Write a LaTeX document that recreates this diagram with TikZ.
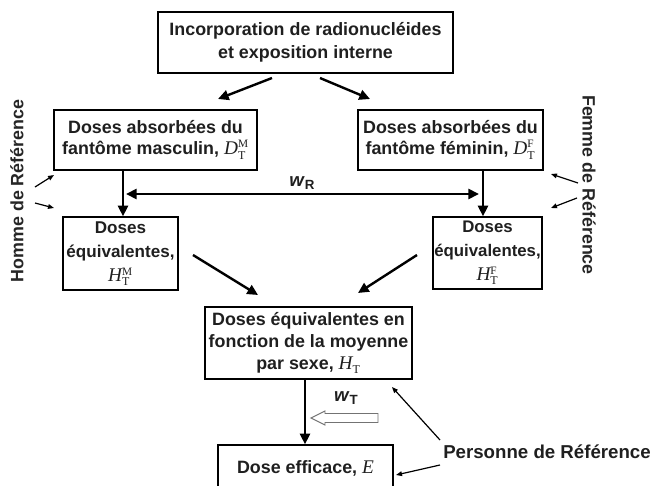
\documentclass[tikz,border=0pt]{standalone}
\usepackage{fontspec}
\setmainfont{Liberation Sans}
\newfontfamily\serifrm{Liberation Serif}
\usetikzlibrary{arrows.meta}
\newcommand{\wsub}[1]{\textit{w}\raisebox{-0.35ex}{\fontsize{10}{10}\selectfont #1}}
\newcommand{\qsym}[3]{\mbox{\fontsize{14.5}{14.5}\selectfont\serifrm\mdseries\itshape #1}$_{\mbox{\fontsize{9}{9}\selectfont\serifrm\mdseries #2}}^{\mbox{\fontsize{8.5}{8.5}\selectfont\serifrm\mdseries #3}}$}
\begin{document}
\begin{tikzpicture}[x=0.75pt,y=-0.75pt,
  box/.style={draw=black,line width=1pt,align=center,inner sep=0pt,
    font=\fontsize{13.4}{15.5}\selectfont\bfseries,text=black!88},
  big/.style={line width=1.8pt,-{Triangle[length=8pt,width=7.5pt]}},
  dbl/.style={line width=2pt,{Triangle[length=8pt,width=7.5pt]}-{Triangle[length=8pt,width=7.5pt]}},
  thin/.style={line width=0.9pt,-{Triangle[length=4.5pt,width=3.5pt]}},
  side/.style={font=\fontsize{13.4}{16}\selectfont\bfseries,text=black!85,inner sep=0pt},
  lab/.style={font=\fontsize{14}{14}\selectfont\bfseries,text=black!88,inner sep=0pt}]
\useasboundingbox (0,0) rectangle (658,486);
\clip (0,0) rectangle (658,486);

% boxes
\node[box,minimum width=221.25pt,minimum height=45.75pt,font=\fontsize{13.4}{17.25}\selectfont\bfseries] (top) at (305.5,42.5)
  {Incorporation de radionucléides\\et exposition interne};
\node[box,minimum width=152.25pt,minimum height=45pt] (absL) at (155.5,140)
  {Doses absorbées du\\fantôme masculin, \qsym{D}{T}{M}};
\node[box,minimum width=138.75pt,minimum height=45pt] (absR) at (450.5,140)
  {Doses absorbées du\\fantôme féminin, \qsym{D}{T}{F}};
\node[box,minimum width=86.25pt,minimum height=54.75pt,font=\fontsize{12.8}{18}\selectfont\bfseries] (eqL) at (120.5,253.5)
  {Doses\\équivalentes,\\\qsym{H}{T}{M}};
\node[box,minimum width=81.75pt,minimum height=54pt,font=\fontsize{12.6}{18}\selectfont\bfseries] (eqR) at (487.5,253)
  {Doses\\équivalentes,\\\qsym{H}{T}{F}};
\node[box,minimum width=155.25pt,minimum height=54pt,font=\fontsize{13.4}{16.5}\selectfont\bfseries] (mid) at (308.5,343)
  {Doses équivalentes en\\fonction de la moyenne\\par sexe, \qsym{H}{T}{}};
\node[box,minimum width=131.25pt,minimum height=34.5pt] (dose) at (305.5,468)
  {Dose efficace, \mbox{\fontsize{14.5}{14.5}\selectfont\serifrm\mdseries\itshape E}};

% side labels
\node[side,rotate=90] (homme) at (17,191) {Homme de Référence};
\node[side,rotate=-90] (femme) at (589,185) {Femme de Référence};
\node[lab,anchor=west] (pers) at (443,452) {Personne de Référence};
\node[lab] (wR) at (302,183) {\wsub{R}};
\node[lab] (wT) at (346,398) {\wsub{T}};

% top arrows
\coordinate (t1s) at (272,78); \coordinate (t1e) at (218,99);
\coordinate (t2s) at (320,78); \coordinate (t2e) at (370,99);
\draw[big] (t1s) -- (t1e);
\draw[big] (t2s) -- (t2e);

% vertical arrows absorbed -> equivalent
\draw[big] (absL.south -| 123,0) -- (eqL.north -| 123,0);
\draw[big] (absR.south -| 483,0) -- (eqR.north -| 483,0);

% w_R double arrow
\coordinate (wRl) at (126,194); \coordinate (wRr) at (479,194);
\draw[dbl] (wRl) -- (wRr);

% diagonals to middle
\coordinate (d1s) at (193,255); \coordinate (d1e) at (258,295);
\coordinate (d2s) at (417,255); \coordinate (d2e) at (358,293);
\draw[big] (d1s) -- (d1e);
\draw[big] (d2s) -- (d2e);

% middle -> dose
\draw[big] (mid.south -| 305,0) -- (dose.north -| 305,0);

% hollow arrow
\draw[black!55,line width=0.7pt,fill=white] (378,413.5) -- (325,413.5) -- (325,411) -- (311,418) -- (325,425) -- (325,422.5) -- (378,422.5) -- cycle;

% thin arrows
\coordinate (h1s) at (35,187); \coordinate (h1e) at (54,175);
\coordinate (h2s) at (35,203); \coordinate (h2e) at (54,208);
\draw[thin] (h1s) -- (h1e);
\draw[thin] (h2s) -- (h2e);
\coordinate (f1s) at (578,183); \coordinate (f1e) at (551,174);
\coordinate (f2s) at (577,198); \coordinate (f2e) at (551,208);
\draw[thin] (f1s) -- (f1e);
\draw[thin] (f2s) -- (f2e);
\coordinate (p1s) at (440,440); \coordinate (p1e) at (392,387);
\coordinate (p2s) at (440,465); \coordinate (p2e) at (396,475);
\draw[thin] (p1s) -- (p1e);
\draw[thin] (p2s) -- (p2e);
\end{tikzpicture}
\end{document}
